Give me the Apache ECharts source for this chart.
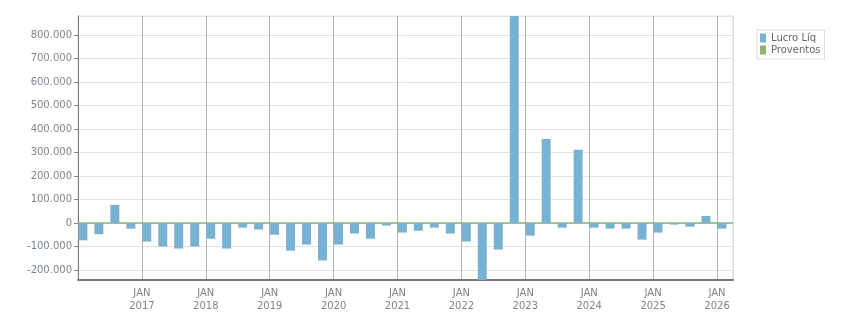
<!DOCTYPE html>
<html>
<head>
<meta charset="utf-8">
<script src="https://cdn.jsdelivr.net/npm/echarts@6/dist/echarts.min.js"></script>
<style>
html, body { margin: 0; padding: 0; background: #fff; }
#chart { width: 851px; height: 313px; }
</style>
</head>
<body>
<div id="chart"></div>
<script>
// trimestres de 1T16 a 1T26
const quarters = [
    "1T16", "2T16", "3T16", "4T16", "1T17", "2T17", "3T17", "4T17",
    "1T18", "2T18", "3T18", "4T18", "1T19", "2T19", "3T19", "4T19",
    "1T20", "2T20", "3T20", "4T20", "1T21", "2T21", "3T21", "4T21",
    "1T22", "2T22", "3T22", "4T22", "1T23", "2T23", "3T23", "4T23",
    "1T24", "2T24", "3T24", "4T24", "1T25", "2T25", "3T25", "4T25",
    "1T26"
];

const lucroLiq = [
    -74000, -48000, 77000, -24000,
    -79000, -100000, -109000, -100000,
    -67000, -109000, -20000, -28000,
    -50000, -118000, -92000, -160000,
    -92000, -45000, -67000, -11000,
    -41000, -33000, -20000, -45000,
    -79000, -243000, -113000, 882000,
    -54000, 358000, -20000, 312000,
    -20000, -24000, -24000, -71000,
    -41000, -7000, -16000, 30000,
    -24000
];

const proventos = [
    0, 0, 0, 0, 0, 0, 0, 0, 0, 0, 0, 0, 0, 0, 0, 0, 0, 0, 0, 0,
    0, 0, 0, 0, 0, 0, 0, 0, 0, 0, 0, 0, 0, 0, 0, 0, 0, 0, 0, 0, 0
];

const yearLabels = ["2016", "2017", "2018", "2019", "2020", "2021", "2022", "2023", "2024", "2025", "2026"];

const font = '"DejaVu Sans", Verdana, sans-serif';
const labelColor = "#7c8490";
const green = "#8db46c";

function formatNumber(v) {
    let s = String(Math.abs(Math.round(v))).replace(/\B(?=(\d{3})+(?!\d))/g, ".");
    return v < 0 ? "-" + s : s;
}

let chart = echarts.init(document.getElementById("chart"));

// linhas verticais: escuras em cada JAN, clara na borda direita
let vColors = yearLabels.map(() => "#b4b4b4");
vColors.push("#dddddd");

chart.setOption({
    animation: false,
    grid: { left: 78, right: 118, top: 16, bottom: 32, show: true, borderColor: "#dddddd", borderWidth: 1 },
    legend: {
        orient: "vertical",
        left: 757,
        top: 30,
        padding: [3, 4, 4, 3],
        itemGap: 2,
        itemWidth: 6,
        itemHeight: 9,
        icon: "rect",
        borderColor: "#dddddd",
        borderWidth: 1,
        textStyle: { color: "#666", fontSize: 10, fontFamily: font },
        data: ["Lucro Líq", "Proventos"]
    },
    xAxis: [
        {
            type: "category",
            data: quarters,
            axisLine: { onZero: false, lineStyle: { color: "#777", width: 2 } },
            axisTick: { show: false },
            axisLabel: { show: false },
            splitLine: { show: false }
        },
        {
            type: "value",
            position: "bottom",
            min: 0,
            max: quarters.length,
            interval: 4,
            axisLine: { show: false },
            axisTick: { show: true, length: 4, lineStyle: { color: "#aaa" } },
            axisLabel: {
                showMinLabel: false,
                showMaxLabel: false,
                color: labelColor,
                fontSize: 10,
                fontFamily: font,
                lineHeight: 13,
                margin: 7,
                formatter: v => (v % 4 === 0 ? "JAN\n" + yearLabels[v / 4] : "")
            },
            splitLine: { show: true, lineStyle: { color: vColors, width: 1 } }
        }
    ],
    yAxis: {
        type: "value",
        min: "dataMin",
        max: "dataMax",
        splitNumber: 10,
        minInterval: 100000,
        maxInterval: 100000,
        axisLine: { show: true, onZero: false, lineStyle: { color: "#777" } },
        axisTick: { show: true, length: 4, lineStyle: { color: "#888" } },
        axisLabel: {
            showMinLabel: false,
            showMaxLabel: false,
            color: labelColor,
            fontSize: 10,
            fontFamily: font,
            margin: 6,
            formatter: formatNumber
        },
        splitLine: { lineStyle: { color: "#e2e2e2" } }
    },
    series: [
        {
            name: "Lucro Líq",
            type: "bar",
            z: 5,
            barWidth: 9,
            barGap: "-31%",
            itemStyle: { color: "#78b2d3" },
            data: lucroLiq
        },
        {
            name: "Proventos",
            type: "bar",
            z: 3,
            barWidth: 9,
            barGap: "-31%",
            itemStyle: { color: green },
            data: proventos,
            markLine: {
                silent: true,
                symbol: ["none", "none"],
                z: 4,
                label: { show: false },
                emphasis: { disabled: true },
                lineStyle: { color: green, width: 1.5, type: "solid", opacity: 1 },
                data: [{ yAxis: 0 }]
            }
        }
    ]
});
</script>
</body>
</html>
